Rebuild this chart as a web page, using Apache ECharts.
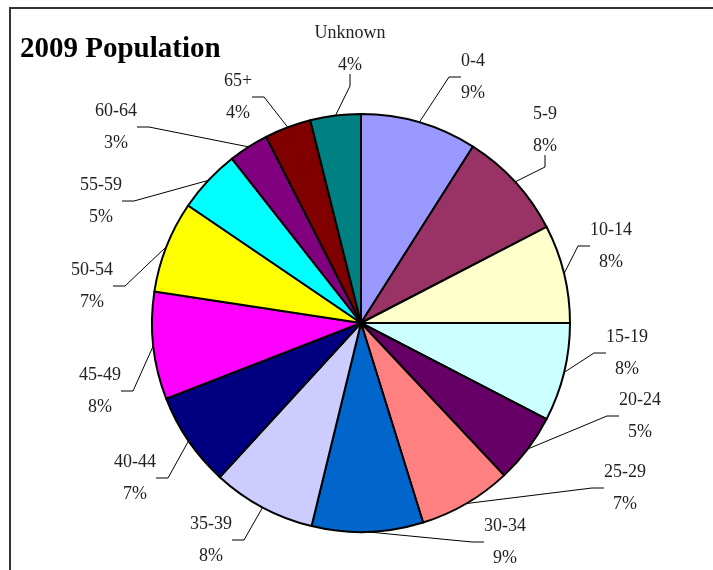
<!DOCTYPE html>
<html>
<head>
<meta charset="utf-8">
<script src="https://cdn.jsdelivr.net/npm/echarts@6/dist/echarts.min.js"></script>
<style>
  html, body { margin: 0; padding: 0; background: #fff; }
  #chart { width: 713px; height: 570px; }
</style>
</head>
<body>
<div id="chart"></div>
<script>
// age groups, clockwise from 12 o'clock
const ageGroups = ['0-4', '5-9', '10-14', '15-19', '20-24', '25-29', '30-34', '35-39',
  '40-44', '45-49', '50-54', '55-59', '60-64', '65+', 'Unknown']
// share of population (%)
const shares = [9.0, 8.4, 7.6, 7.6, 5.4, 7.2, 8.6, 8.0, 7.3, 8.3, 7.1, 4.9, 3.1, 3.6, 3.9]
const sliceColors = ['#9999FF', '#993366', '#FFFFCC', '#CCFFFF', '#660066', '#FF8080', '#0066CC',
  '#CCCCFF', '#000080', '#FF00FF', '#FFFF00', '#00FFFF', '#800080', '#800000', '#008080']

const serif = '"Liberation Serif", "DejaVu Serif", serif'

// where the data labels sit (text block centres), same order as ageGroups
const labelCenters = [
  [473, 77], [545, 130], [611, 246], [627, 353], [640, 416], [625, 488], [505, 542],
  [211, 540], [135, 478], [100, 391], [92, 286], [101, 201], [116, 127], [238, 97], [350, 49]
]

const myChart = echarts.init(document.getElementById('chart'))

const option = {
  animation: false,
  backgroundColor: '#fff',
  title: {
    text: '2009 Population',
    left: 20,
    top: 35,
    padding: 0,
    textStyle: {
      fontFamily: serif,
      fontSize: 29,
      fontWeight: 'bold',
      color: '#000'
    }
  },
  graphic: [
    {
      type: 'rect',
      shape: { x: 10, y: 8, width: 800, height: 700 },
      style: { fill: 'none', stroke: '#333', lineWidth: 2 },
      silent: true
    }
  ],
  series: [
    {
      type: 'pie',
      center: [361, 323],
      radius: 209,
      startAngle: 90,
      clockwise: true,
      avoidLabelOverlap: false,
      data: ageGroups.map((name, i) => ({
        name,
        value: shares[i],
        itemStyle: { color: sliceColors[i] }
      })),
      itemStyle: {
        borderColor: '#000',
        borderWidth: 2
      },
      label: {
        show: true,
        position: 'outside',
        fontFamily: serif,
        fontSize: 18,
        color: '#222',
        formatter: p => '{n|' + p.name + '}\n{p|' + Math.round(p.percent) + '%}',
        rich: {
          n: { align: 'center', lineHeight: 32, fontFamily: serif, fontSize: 18, color: '#222' },
          p: { align: 'center', lineHeight: 32, fontFamily: serif, fontSize: 18, color: '#222' }
        }
      },
      labelLine: {
        show: true,
        length: 20,
        length2: 12,
        lineStyle: { color: '#000', width: 1 }
      },
      labelLayout: params => {
        const c = labelCenters[params.dataIndex]
        return { x: c[0], y: c[1], align: 'center', verticalAlign: 'middle' }
      },
      emphasis: { disabled: true }
    }
  ]
}

myChart.setOption(option)

window.addEventListener('resize', () => {
  myChart.resize()
})
</script>
</body>
</html>
